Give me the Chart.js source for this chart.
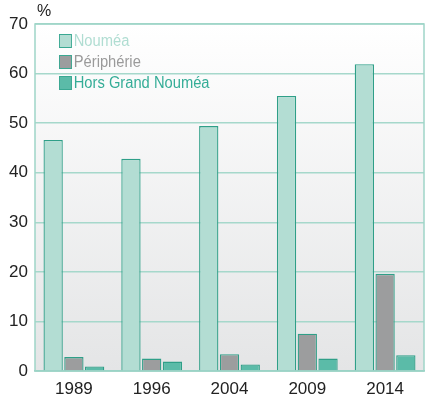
<!DOCTYPE html>
<html>
<head>
<meta charset="utf-8">
<script src="https://cdn.jsdelivr.net/npm/chart.js@4/dist/chart.umd.min.js"></script>
<style>
  html, body { margin: 0; padding: 0; background: #fff; }
  #wrap { position: relative; width: 426px; height: 402px; }
  #unit { position: absolute; left: 37px; top: 2px; font: 16px "Liberation Sans Narrow", "Liberation Sans", sans-serif; color: #222; }
  #legend { position: absolute; left: 59px; top: 30px; font: 16px "Liberation Sans Narrow", "Liberation Sans", sans-serif; line-height: 21px; transform: scaleX(0.92); transform-origin: left top; }
  #legend div { display: flex; align-items: center; }
  #legend span.box { display: inline-block; width: 14px; height: 14px; margin-right: 2px; border: 1.5px solid #3aa892; box-sizing: border-box; }
</style>
</head>
<body>
<div id="wrap">
  <canvas id="chart" width="426" height="402"></canvas>
  <div id="unit">%</div>
  <div id="legend"></div>
</div>
<script>
// years on the x axis
const years = ["1989", "1996", "2004", "2009", "2014"];

// share per zone, in %
const noumea = [46.6, 42.8, 49.4, 55.5, 61.9];
const peripherie = [2.8, 2.5, 3.4, 7.5, 19.6];
const horsGrandNoumea = [0.9, 1.9, 1.3, 2.5, 3.2];

const seriesNames = ["Nouméa", "Périphérie", "Hors Grand Nouméa"];
const fills = ["#b3ddd3", "#9c9d9e", "#5bbba8"];
const textColors = ["#b0ddd2", "#9a9a9a", "#35ad97"];
const edge = "#2f9f88";

const yTicks = [0, 10, 20, 30, 40, 50, 60, 70];

// plot background + frame
const plotFrame = {
  id: "plotFrame",
  beforeDraw(chart) {
    const { ctx, chartArea: a } = chart;
    const g = ctx.createLinearGradient(0, a.top, 0, a.bottom);
    g.addColorStop(0, "#ffffff");
    g.addColorStop(1, "#e4e5e6");
    ctx.save();
    ctx.fillStyle = g;
    ctx.fillRect(a.left, a.top, a.right - a.left, a.bottom - a.top);
    ctx.restore();
  },
  beforeDatasetsDraw(chart) {
    const { ctx, chartArea: a } = chart;
    ctx.save();
    ctx.strokeStyle = "#9fd5c8";
    ctx.lineWidth = 1.5;
    ctx.strokeRect(a.left, a.top, a.right - a.left, a.bottom - a.top);
    ctx.restore();
  }
};

const font = { family: "'Liberation Sans Narrow', 'Liberation Sans', sans-serif", size: 17 };

new Chart(document.getElementById("chart"), {
  type: "bar",
  data: {
    labels: years,
    datasets: [noumea, peripherie, horsGrandNoumea].map((d, i) => ({
      label: seriesNames[i],
      data: d,
      backgroundColor: fills[i],
      borderColor: edge,
      borderWidth: 1.3,
      categoryPercentage: 0.8,
      barPercentage: 0.93
    }))
  },
  options: {
    responsive: false,
    animation: false,
    layout: { padding: { top: 24, right: 2, left: 0, bottom: 0 } },
    plugins: { legend: { display: false }, tooltip: { enabled: false } },
    scales: {
      x: {
        grid: { display: false, drawTicks: false },
        border: { color: "#8fcfbf", width: 1.5 },
        ticks: { color: "#222", font: font, padding: 8 },
        afterFit(s) { s.height = 31; }
      },
      y: {
        min: 0,
        max: 70,
        afterBuildTicks(s) { s.ticks = yTicks.map(v => ({ value: v })); },
        grid: { color: "#a6d8cb", lineWidth: 1.5, drawTicks: false },
        border: { display: false },
        ticks: { color: "#222", font: font, padding: 7 },
        afterFit(s) { s.width = 35; }
      }
    }
  },
  plugins: [plotFrame]
});

// legend as html text
const legend = document.getElementById("legend");
seriesNames.forEach((name, i) => {
  const row = document.createElement("div");
  row.innerHTML = `<span class="box" style="background:${fills[i]}"></span><span style="color:${textColors[i]}">${name}</span>`;
  legend.appendChild(row);
});
</script>
</body>
</html>
